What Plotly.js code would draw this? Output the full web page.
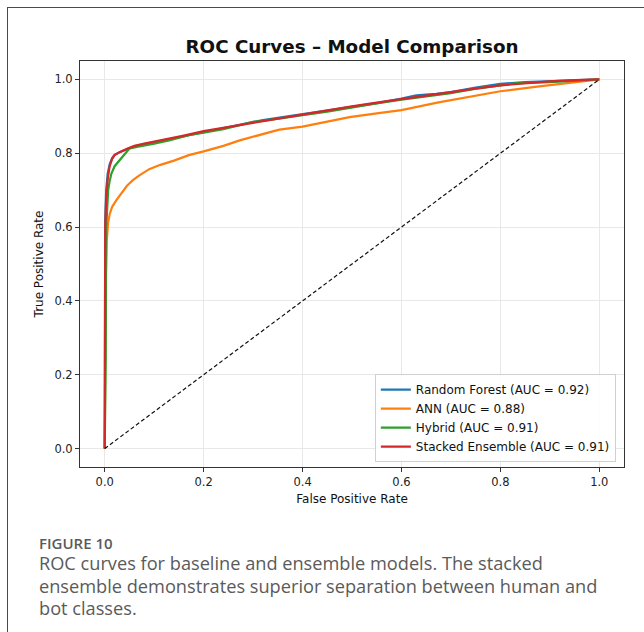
<!DOCTYPE html>
<html>
<head>
<meta charset="utf-8">
<script src="https://cdn.plot.ly/plotly-3.0.1.min.js"></script>
<style>
  html, body { margin: 0; padding: 0; background: #fff; }
  #wrap { position: relative; width: 644px; height: 632px; overflow: hidden; }
  #chart { width: 644px; height: 632px; }
  #frame { position: absolute; left: 7px; top: 7px; width: 700px; height: 700px;
           border-left: 1.5px solid #4a4a4a; border-top: 1.5px solid #4a4a4a; pointer-events: none; }
</style>
</head>
<body>
<div id="wrap">
  <div id="chart"></div>
  <div id="frame"></div>
</div>
<script>
// ---- data ----
const seriesNames = ["Random Forest (AUC = 0.92)", "ANN (AUC = 0.88)", "Hybrid (AUC = 0.91)", "Stacked Ensemble (AUC = 0.91)"];
const seriesColors = ["#1f77b4", "#ff7f0e", "#2ca02c", "#d62728"];

const rfFpr = [0, 0, 0.001, 0.003, 0.006, 0.01, 0.015, 0.02, 0.03, 0.045, 0.06, 0.08, 0.1, 0.13, 0.16, 0.2, 0.24, 0.28, 0.32, 0.36, 0.4, 0.45, 0.5, 0.55, 0.6, 0.63, 0.67, 0.7, 0.75, 0.8, 0.85, 0.9, 0.95, 1];
const rfTpr = [0, 0.5, 0.62, 0.7, 0.745, 0.77, 0.787, 0.796, 0.803, 0.811, 0.818, 0.825, 0.831, 0.838, 0.846, 0.857, 0.868, 0.88, 0.89, 0.898, 0.906, 0.915, 0.927, 0.936, 0.948, 0.957, 0.961, 0.966, 0.978, 0.988, 0.993, 0.996, 0.999, 1];

const annFpr = [0, 0.001, 0.002, 0.004, 0.0067, 0.01, 0.015, 0.0236, 0.035, 0.045, 0.057, 0.07, 0.09, 0.111, 0.14, 0.17, 0.2, 0.24, 0.273, 0.31, 0.353, 0.4, 0.45, 0.495, 0.55, 0.6, 0.675, 0.74, 0.8, 0.87, 0.938, 1];
const annTpr = [0, 0.25, 0.45, 0.56, 0.61, 0.635, 0.655, 0.673, 0.695, 0.712, 0.727, 0.74, 0.757, 0.768, 0.78, 0.795, 0.805, 0.82, 0.835, 0.848, 0.864, 0.872, 0.886, 0.898, 0.908, 0.917, 0.938, 0.953, 0.968, 0.98, 0.99, 1];

const hybFpr = [0, 0.002, 0.003, 0.005, 0.007, 0.01, 0.0135, 0.02, 0.03, 0.04, 0.05, 0.065, 0.08, 0.1, 0.13, 0.17, 0.2, 0.24, 0.273, 0.3, 0.33, 0.36, 0.4, 0.45, 0.5, 0.55, 0.6, 0.65, 0.7, 0.75, 0.8, 0.835, 0.9, 0.95, 1];
const hybTpr = [0, 0.24, 0.6, 0.66, 0.7, 0.725, 0.745, 0.765, 0.78, 0.797, 0.813, 0.817, 0.82, 0.826, 0.835, 0.849, 0.856, 0.865, 0.876, 0.885, 0.89, 0.895, 0.903, 0.913, 0.925, 0.935, 0.945, 0.953, 0.963, 0.975, 0.985, 0.99, 0.993, 0.997, 1];

const steFpr = [0, 0, 0.001, 0.003, 0.006, 0.01, 0.015, 0.02, 0.03, 0.045, 0.06, 0.08, 0.1, 0.13, 0.16, 0.2, 0.24, 0.28, 0.32, 0.36, 0.4, 0.45, 0.5, 0.55, 0.6, 0.65, 0.7, 0.75, 0.8, 0.85, 0.9, 0.95, 1.0];
const steTpr = [0, 0.45, 0.6, 0.68, 0.73, 0.765, 0.785, 0.795, 0.803, 0.812, 0.82, 0.826, 0.832, 0.84, 0.848, 0.86, 0.869, 0.879, 0.887, 0.896, 0.905, 0.916, 0.927, 0.937, 0.947, 0.956, 0.965, 0.975, 0.984, 0.99, 0.995, 0.998, 1.0];

const chanceX = [0, 1];
const chanceY = [0, 1];

const tickVals = [0, 0.2, 0.4, 0.6, 0.8, 1.0];
const tickText = ["0.0", "0.2", "0.4", "0.6", "0.8", "1.0"];

const titleText = "ROC Curves \u2013 Model Comparison";
const xTitle = "False Positive Rate";
const yTitle = "True Positive Rate";
const figLabel = "FIGURE 10";
const captionLines = [
  "ROC curves for baseline and ensemble models. The stacked",
  "ensemble demonstrates superior separation between human and",
  "bot classes."
];

// ---- build ----
const xs = [rfFpr, annFpr, hybFpr, steFpr];
const ys = [rfTpr, annTpr, hybTpr, steTpr];
const traces = xs.map((x, i) => ({
  type: "scatter", mode: "lines", x: x, y: ys[i], name: seriesNames[i],
  line: { color: seriesColors[i], width: 2.2 }
}));
traces.push({
  type: "scatter", mode: "lines", x: chanceX, y: chanceY, showlegend: false,
  line: { color: "#111", width: 1.2, dash: "4px,2.5px" }
});

const W = 644, H = 632;
const mL = 80, mR = 20, mT = 61, mB = 165;
const pw = W - mL - mR, ph = H - mT - mB;
const px = v => (v - mL) / pw;
const py = v => (H - mB - v) / ph;

const axisCommon = {
  range: [-0.05, 1.05], tickvals: tickVals, ticktext: tickText,
  ticks: "outside", ticklen: 4, tickwidth: 1, tickcolor: "#333",
  showline: true, linecolor: "#333", linewidth: 1, mirror: true,
  showgrid: true, gridcolor: "#e8e8e8", gridwidth: 1, zeroline: false,
  tickfont: { family: "DejaVu Sans", size: 11.5, color: "#222" }
};

const captionAnnots = captionLines.map((t, i) => ({
  text: t, xref: "paper", yref: "paper", x: px(37), y: py(563 + i * 22.5),
  xanchor: "left", yanchor: "middle", align: "left", showarrow: false,
  font: { family: "Open Sans", size: 18.2, color: "#5a5a5a" }
}));

const layout = {
  width: W, height: H,
  margin: { l: mL, r: mR, t: mT, b: mB },
  paper_bgcolor: "#fff", plot_bgcolor: "#fff",
  title: { text: titleText, font: { family: "DejaVu Sans", size: 18.3, color: "#111", weight: "bold" },
           x: 0.5, xref: "paper", xanchor: "center", y: 1 - 47 / H, yref: "container", yanchor: "middle" },
  xaxis: Object.assign({}, axisCommon, {
    title: { text: xTitle, font: { family: "DejaVu Sans", size: 12, color: "#111" }, standoff: 6 }
  }),
  yaxis: Object.assign({}, axisCommon, {
    title: { text: yTitle, font: { family: "DejaVu Sans", size: 12, color: "#111" }, standoff: 8 }
  }),
  legend: {
    x: 0.985, xanchor: "right", y: 0.012, yanchor: "bottom",
    bgcolor: "rgba(255,255,255,0.85)", bordercolor: "#d0d0d0", borderwidth: 1,
    font: { family: "DejaVu Sans", size: 12, color: "#111" },
    itemwidth: 30, tracegroupgap: 0
  },
  showlegend: true,
  annotations: [
    { text: figLabel, xref: "paper", yref: "paper", x: px(37), y: py(543), xanchor: "left", yanchor: "middle",
      showarrow: false, font: { family: "Open Sans", size: 15, color: "#5a5a5a", weight: 600 } }
  ].concat(captionAnnots)
};

Plotly.newPlot("chart", traces, layout, { displayModeBar: false, staticPlot: true });
</script>
</body>
</html>
